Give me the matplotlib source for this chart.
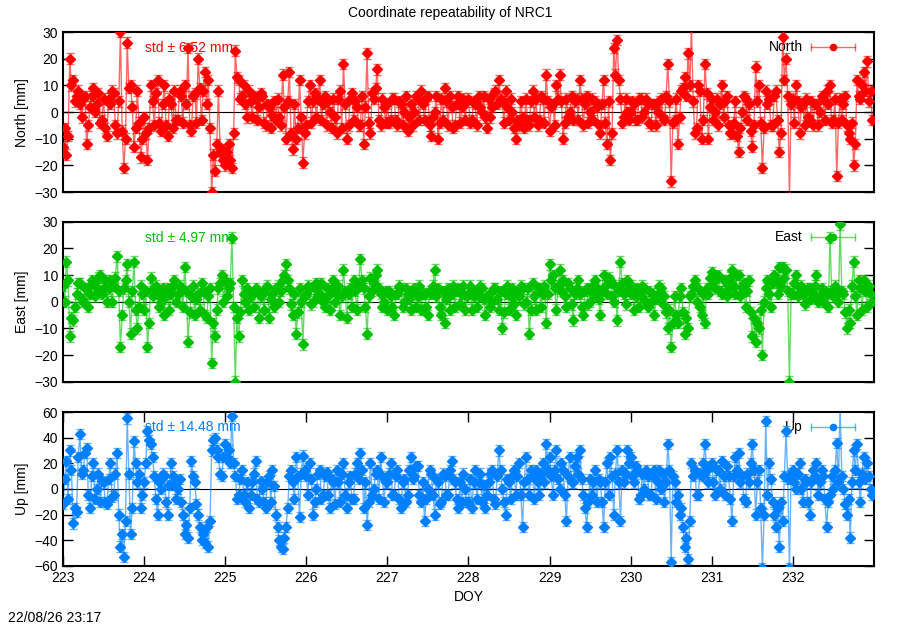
import numpy as np
import matplotlib
matplotlib.use("Agg")
import matplotlib.pyplot as plt

plt.rcParams['font.family'] = ['Liberation Sans', 'DejaVu Sans']
plt.rcParams['font.size'] = 10

# half-hourly coordinate residuals [mm], DOY 223 .. 232 (48 per day)
north = [
    -13, -6, -16, -9, 20, 10, 12, 4, 6, 8, 3, -2, 5, 6, -12, -5, 2, 6, 9, 0, 3, 7, -4, -3,
    5, -6, -9, 5, 3, 8, 7, -5, -8, 4, 30, -7, -21, -10, 26, 9, 10, 2, -13, -6, 8, -4, -17, -10,     # 223
    -2, -8, -18, -6, 10, 4, -5, 7, 12, -4, -7, 3, 10, -5, -9, 5, 3, -6, 8, -3, -3, 8, 6, -4,
    10, 3, 24, -5, -7, 6, 7, -4, 20, 9, -3, 8, 15, 3, 12, -6, -30, -16, -22, -12, 8, -15, -14, -18, # 224
    -20, -15, -12, -18, -21, -8, 23, 13, 12, 5, 6, 10, 3, -2, 8, 4, -2, 6, 5, -3, 2, 7, 6, -4,
    -5, 3, 2, -6, -1, 4, -3, 5, -2, -5, 14, 2, -10, 4, 15, -8, -14, 3, -10, -6, 12, -2, -19, -8,    # 225
    -5, 4, 10, -4, 4, 7, -2, 5, 12, -3, 3, 6, -5, 4, 0, -6, 5, -2, -8, 5, 8, -6, 18, 3,
    -10, -5, 5, 7, -3, 4, 2, -5, -5, 6, -12, 2, 22, -4, -8, 7, 5, 9, 16, -3, -5, 5, 2, -4,          # 226
    3, -4, -3, 5, 5, -3, -5, 4, 3, -5, 0, 6, -7, -2, 3, -5, 0, 6, 5, -3, 8, 3, -3, 5,
    6, -5, -9, -2, 0, 6, -10, -4, 5, -3, 9, 4, -5, 6, 2, -6, -5, 3, 6, -4, 2, 5, -3, 4,             # 227
    5, -4, -3, 4, 3, -5, 6, 2, 0, 6, -2, -6, 5, -2, 2, 7, 8, 3, 12, 5, 4, -4, 8, 2,
    -3, 5, 0, -6, -10, -3, -5, 4, -2, -6, 5, -3, -5, 4, 8, -2, 5, -5, -3, 6, 5, -4, 14, 4,          # 228
    -7, 2, 3, -5, 10, 5, 14, 4, -10, -4, 5, -2, 0, 6, -3, 4, 5, -3, 12, 5, -5, 3, 6, -4,
    0, 5, -3, 4, 2, -5, -8, 3, 12, -4, -12, 4, -18, -8, 24, 14, 27, 12, 5, -4, -2, 5, 0, -3,        # 229
    0, 4, 3, -3, -3, 5, 5, -2, 0, 5, 3, -4, -5, 3, 3, -5, 0, 4, 5, -2, -3, 6, 18, 4,
    -26, -4, -3, 5, -12, -2, 8, 9, 13, 6, 22, 10, 32, 4, -8, -6, 10, 8, -10, -3, 18, 7, -10, 2,     # 230
    5, -3, 0, 5, -5, 3, 10, -2, 4, 6, -5, -8, -8, -4, 4, -9, -15, -6, 0, 6, 5, -3, 3, -7,
    -13, -5, 17, 4, 10, -4, -21, -6, 8, 3, 5, -5, -5, 6, 8, -3, -15, -8, 28, 12, 20, 6, -32, 3,     # 231
    5, -4, 10, 4, -8, 2, 3, -5, 5, -2, -3, 4, -5, 3, 3, -5, 0, 6, 5, -3, 8, 3, 10, -4,
    -3, 5, -24, -4, 5, -3, 3, 6, -5, -8, -10, -4, -20, -12, 12, 6, 5, 10, 15, 8, 19, 4, 8, -3,      # 232
]
east = [
    6, 0, 15, 8, -13, -6, -7, -2, 3, 7, 7, 1, 0, 5, 5, -2, 3, 8, 7, 2, 5, 9, 10, 3,
    5, 8, 0, 5, 8, 0, 6, 9, 17, 4, -17, -5, 5, 8, 14, 0, -12, 4, 15, -3, -10, -2, 6, 3,             # 223
    -3, 4, -17, -8, 9, 2, 5, 6, 3, -2, 0, 5, -5, 2, 5, -3, 3, 6, 8, 0, 3, 6, 5, -2,
    13, 4, -15, -4, 2, 6, -5, 1, 3, -3, 7, 4, -5, -6, 2, 5, -23, -8, -13, -3, 5, 7, 10, 0,          # 224
    8, 2, 5, 7, 24, -2, -30, -6, -13, -4, 8, 3, 0, 5, -3, 2, 3, -2, 5, 4, -6, 2, 3, -3,
    5, 6, -6, 1, 3, -2, 5, 6, 0, 4, 8, 10, 14, 8, 5, -1, -5, 3, -12, -4, 5, 0, -16, 2,              # 225
    3, 6, 5, -1, 0, 5, 7, 2, 3, 7, 0, -2, 5, 2, -3, 5, 8, 0, 3, 6, -5, 2, 12, 4,
    -6, 3, 5, -2, 8, 4, -3, 6, 16, 8, 5, -2, -12, 2, 9, 4, 7, 10, 12, 5, 3, -2, 0, 4,               # 226
    -3, 4, 2, -2, -5, 3, 3, 6, 5, -2, 0, 5, 3, 1, -3, 4, 5, -2, 2, 6, -3, 3, 3, -2,
    -5, 4, 3, 6, 12, 2, 5, -2, -5, 4, -8, 1, 5, -3, 3, 6, -2, 4, 5, -1, 3, 6, -3, 2,                # 227
    3, 6, -3, 2, 4, -2, 2, 6, 5, 1, -5, 2, 3, -2, 0, 5, 5, 1, -3, 4, -10, -4, 3, 6,
    -3, 2, 5, -1, -5, 3, 2, 6, 5, -1, 0, 5, -12, -3, 7, 2, -3, 5, 5, -2, 3, 6, -8, 3,               # 228
    14, 8, 10, 5, -3, 6, 12, 4, 8, 2, -2, 7, 5, -1, -7, 3, 5, 8, 3, -2, -5, 4, 5, -1,
    0, 6, 3, 8, 5, 1, -5, 4, 10, 6, 3, 9, 8, 2, 0, 6, -7, 4, 15, 7, 3, -1, 8, 5,                    # 229
    3, 6, -3, 2, 5, -2, 2, 6, 5, 0, -2, 4, 0, 3, -5, 1, 3, 6, 5, -1, 2, -4, -10, -3,
    -17, -8, 2, -5, -8, 2, 5, -4, -12, -6, -10, 2, 3, 6, 8, 0, 5, -2, -5, 3, -8, 5, 3, 9,           # 230
    11, 6, 5, 9, 10, 4, 3, 8, 8, 2, 5, 9, 12, 6, 3, 10, 10, 2, 5, 7, -2, 4, 8, -4,
    -13, -6, -15, -8, -10, -3, -20, 0, 5, 8, 3, -2, 7, 10, 8, 3, 13, 6, 13, 9, 12, 4, -30, 3,       # 231
    3, 7, 10, 2, 5, 6, 3, -1, 0, 5, 5, 1, 3, 6, 10, 0, 2, 5, 0, 4, 3, -2, 24, 4,
    2, 6, 3, 0, 29, 4, 3, -4, -10, -3, -8, 6, 15, 2, -5, 8, 5, -3, 8, 4, -2, 6, 3, 0,               # 232
]
up = [
    -12, 8, 22, -8, 30, 15, -27, -15, -18, 25, 43, 12, 15, 28, 32, -5, -15, 10, 20, -8, 0, 12, -10, 6,
    5, -10, -12, 8, 20, -6, -5, 12, 28, -20, -45, -35, -53, -25, 55, 12, -35, -15, 37, 20, 5, 12, -15, -5,   # 223
    5, 20, 45, 38, 35, 25, 10, -8, -20, 5, 0, 12, 10, -10, -20, 3, 20, 10, 3, -8, 0, 8, -10, -20,
    -35, -28, -38, -15, 22, 10, 5, -12, -20, -30, -40, -35, -42, -30, -45, -25, 30, 38, 40, 30, 25, 12, 10, 25,  # 224
    35, 25, 30, 20, 57, 20, 10, -8, -5, 8, 15, -5, -10, 5, -15, -5, 5, 12, 22, -8, -10, 6, 0, -10,
    -15, 5, 10, -10, 15, 2, -20, -30, -40, -45, -47, -38, -30, -15, 10, 15, 5, -8, 25, 10, -22, 12, 26, 15,  # 225
    10, -5, 20, 8, -20, -10, 0, 12, 15, -8, -5, 10, 13, -5, -15, 8, 5, -12, 15, 5, -10, 12, 20, -5,
    -15, 5, 10, -8, -8, 12, 20, 8, 28, 15, -15, 5, -28, -10, 20, -5, 0, 12, 15, -8, 25, 10, -10, 5,      # 226
    5, 12, 20, -5, -5, 10, 15, -8, -15, 5, 8, -10, -5, 15, 25, 8, 10, 18, 18, -5, -10, 5, -25, -8,
    0, 15, 12, -5, -20, 8, 5, -12, -10, 12, 10, -5, -5, 15, 22, 8, 5, -8, -15, 5, -10, 12, 0, -10,       # 227
    -10, 8, -15, 5, 15, -8, 5, 12, -10, 3, -15, -5, 5, 12, 15, -8, -12, 10, 30, 15, 0, -10, -20, 8,
    5, -8, 10, 15, -5, 10, 20, -5, -30, 5, 25, 8, -5, 15, 10, -8, 15, 5, -5, 12, 20, 5, 35, 15,          # 228
    25, 10, -5, 15, 30, 8, 0, 20, 15, -5, -25, 10, 25, 5, 5, 18, 25, 12, 30, 8, -5, -15, -30, -10,
    8, -5, 5, 15, -10, 8, 5, -10, -30, 5, 20, -5, 25, 10, -20, 12, 30, 5, -25, 15, 5, 12, 30, 20,        # 229
    25, 10, 5, 18, 15, -8, -5, 12, 0, 15, 10, -5, -5, 10, 15, -8, 5, 15, 0, 12, -10, 5, 35, 15,
    -57, 10, 5, -10, -5, -20, -15, -30, -45, -38, -55, -25, 20, 10, 15, -5, -5, 12, 10, 20, 35, 15, 5, 18,  # 230
    20, 5, -5, 15, 15, 0, 22, 10, -5, 18, 10, -8, -25, 10, 25, 15, 28, 5, 10, -8, -10, 12, 5, 20,
    35, 15, -20, 5, 15, -15, -62, -20, 53, -5, 20, 8, -10, -20, -30, -15, -45, -10, -25, 10, 45, 8, -62, 12,  # 231
    15, 5, 0, 12, 20, 0, -10, 8, 5, -10, -20, 5, 15, 10, 20, -5, 5, 15, 10, -8, -30, -10, -5, 10,
    0, 15, 36, 5, 65, 10, 0, -12, -20, -8, -38, 5, 30, 15, 35, 5, -10, 12, 25, 8, 20, 10, 0, -5,         # 232
]

doy_start = 223
samples_per_day = 48

# formal errors [mm]
sigma = [2.0, 2.0, 4.0]
std_text = ['std ± 6.52 mm', 'std ± 4.97 mm', 'std ± 14.48 mm']
names = ['North', 'East', 'Up']
colors = ['#ff0000', '#00c000', '#0080ff']
ylims = [(-30, 30), (-30, 30), (-60, 60)]
ysteps = [10, 10, 20]

fig = plt.figure(figsize=(9, 6.3), dpi=100)
boxes = [[0.070, 0.695, 0.901, 0.254],
         [0.070, 0.394, 0.901, 0.254],
         [0.070, 0.102, 0.901, 0.244]]

for i, vals in enumerate([north, east, up]):
    ax = fig.add_axes(boxes[i])
    vals = np.array(vals, dtype=float)
    doy = doy_start + np.arange(len(vals)) / samples_per_day
    c = colors[i]

    ax.axhline(0, color='black', lw=0.8, zorder=1)
    ax.errorbar(doy, vals, yerr=sigma[i], fmt='-', color=c, lw=1, alpha=0.6,
                ecolor=c, elinewidth=1, capsize=3, zorder=2)
    ax.plot(doy, vals, 'D', color=c, ms=5, mec=c, zorder=3)

    ax.text(0.101, 0.90, std_text[i], color=c, transform=ax.transAxes,
            fontsize=10, va='center', zorder=1)

    # gnuplot-style key
    ax.text(0.912, 0.905, names[i], transform=ax.transAxes, ha='right',
            va='center', fontsize=10, zorder=1)
    ax.plot([0.922, 0.977], [0.905, 0.905], color=c, lw=1, alpha=0.6,
            transform=ax.transAxes, zorder=1)
    ax.plot([0.922, 0.977], [0.905, 0.905], '|', color=c, ms=6, alpha=0.6,
            transform=ax.transAxes, zorder=1)
    ax.plot([0.9495], [0.905], 'o', color=c, ms=4.5, transform=ax.transAxes, zorder=1)

    ax.set_xlim(223, 233)
    ax.set_ylim(*ylims[i])
    ax.set_yticks(np.arange(ylims[i][0], ylims[i][1] + 1, ysteps[i]))
    ax.set_xticks(np.arange(223, 233))
    ax.tick_params(direction='in', top=True, right=True, length=7, width=1)
    ax.set_ylabel(f'{names[i]} [mm]')
    for s in ax.spines.values():
        s.set_linewidth(1.5)
    if i < 2:
        ax.tick_params(labelbottom=False, bottom=False, top=False)
    else:
        ax.set_xlabel('DOY')

fig.suptitle('Coordinate repeatability of NRC1', y=0.99, fontsize=10)
fig.text(0.009, 0.013, '22/08/26 23:17', fontsize=10)

fig.savefig('out.png', dpi=100)
